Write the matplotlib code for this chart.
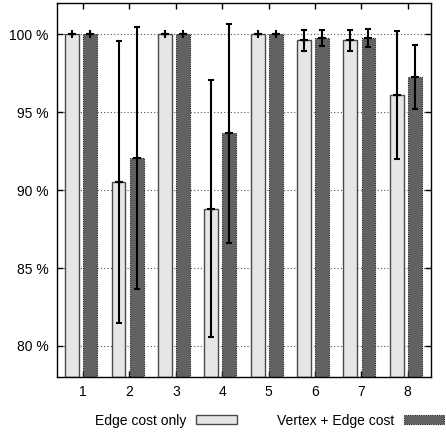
import matplotlib
matplotlib.use("Agg")
import matplotlib.pyplot as plt
import numpy as np

plt.rcParams['font.family'] = ['Liberation Sans', 'DejaVu Sans']

groups = [1, 2, 3, 4, 5, 6, 7, 8]
edge_only = [100.0, 90.5, 100.0, 88.8, 100.0, 99.6, 99.6, 96.1]
edge_only_err = [0.0, 9.05, 0.0, 8.25, 0.0, 0.68, 0.7, 4.13]
vertex_edge = [100.0, 92.05, 100.0, 93.63, 100.0, 99.76, 99.76, 97.24]
vertex_edge_err = [0.0, 8.4, 0.0, 7.0, 0.0, 0.53, 0.55, 2.04]
y_ticks = [80, 85, 90, 95, 100]
y_labels = ["80 %", "85 %", "90 %", "95 %", "100 %"]
series_names = ["Edge cost only", "Vertex + Edge cost"]

fig = plt.figure(figsize=(4.46, 4.32), dpi=100)
ax = fig.add_axes([0.128, 0.127, 0.838, 0.866])

x = np.array(groups, dtype=float)
width = 0.30
x_light = x - 0.235
x_dark = x + 0.155
base = 78

ax.bar(x_light, np.array(edge_only) - base, width, bottom=base,
       color="#e6e6e6", edgecolor="#4a4a4a", linewidth=1.0, zorder=2,
       label=series_names[0])
ax.bar(x_dark, np.array(vertex_edge) - base, width, bottom=base,
       color="#626262", edgecolor="#1a1a1a", linewidth=0.8, linestyle=(0, (1, 1)),
       zorder=2, label=series_names[1])

for xs, ys, es in [(x_light, edge_only, edge_only_err),
                   (x_dark, vertex_edge, vertex_edge_err)]:
    ax.errorbar(xs, ys, yerr=es, fmt='none', ecolor='black', elinewidth=1.5,
                capsize=2.2, capthick=1.5, zorder=3)
    ax.plot(xs, ys, linestyle='none', marker='+', color='black',
            markersize=6, markeredgewidth=1.5, zorder=4)

ax.set_xlim(0.44, 8.5)
ax.set_ylim(78, 102)
ax.set_xticks(groups)
ax.set_xticklabels([str(g) for g in groups])
ax.set_yticks(y_ticks)
ax.set_yticklabels(y_labels)
ax.tick_params(direction='in', length=4.5, width=1, top=True, right=True,
               labelsize=10, pad=6)
ax.yaxis.grid(True, linestyle=(0, (1, 2)), color='#555555', linewidth=0.8, zorder=0)
ax.set_axisbelow(True)
for s in ax.spines.values():
    s.set_linewidth(1.0)
    s.set_zorder(5)

leg = fig.legend(loc='center', bbox_to_anchor=(0.605, 0.026), ncol=2,
                 frameon=False, markerfirst=False, fontsize=10,
                 handlelength=2.9, handleheight=0.6, columnspacing=2.9,
                 handletextpad=0.7)

fig.savefig("out.png", dpi=100)
